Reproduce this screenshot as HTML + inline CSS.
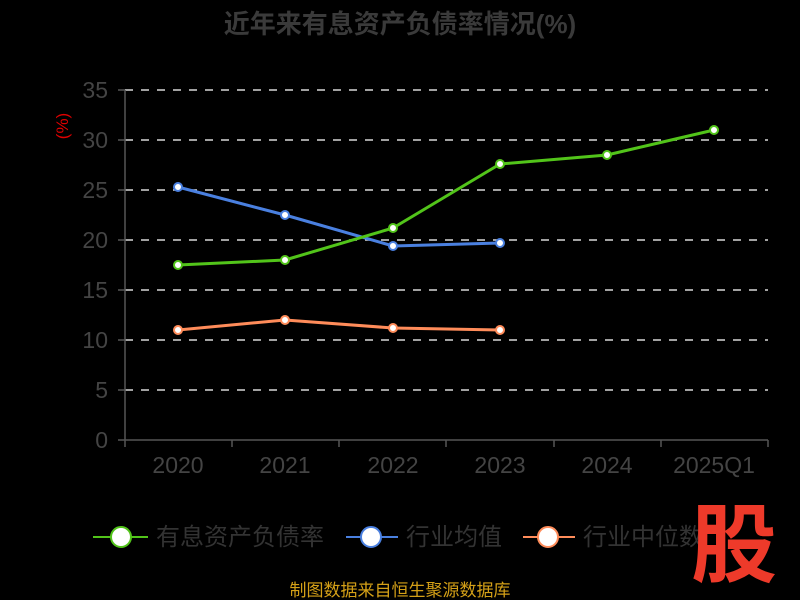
<!DOCTYPE html>
<html><head><meta charset="utf-8"><style>
html,body{margin:0;padding:0;background:#000;}
svg{display:block;font-family:"Liberation Sans","Noto Sans CJK SC",sans-serif;}
</style></head><body>
<svg width="800" height="600" viewBox="0 0 800 600">
<rect width="800" height="600" fill="#000"/>
<text x="400" y="33" text-anchor="middle" font-size="26" font-weight="bold" fill="#3a3a3a">近年来有息资产负债率情况(%)</text>
<text transform="translate(68,126) rotate(-90)" text-anchor="middle" font-size="17" fill="#e00000">(%)</text>
<g stroke="#d8d8d8" stroke-width="1.5" stroke-dasharray="8,8">
<line x1="125" y1="90" x2="768" y2="90"/><line x1="125" y1="140" x2="768" y2="140"/>
<line x1="125" y1="190" x2="768" y2="190"/><line x1="125" y1="240" x2="768" y2="240"/>
<line x1="125" y1="290" x2="768" y2="290"/><line x1="125" y1="340" x2="768" y2="340"/>
<line x1="125" y1="390" x2="768" y2="390"/>
</g>
<g stroke="#555" stroke-width="1.5">
<line x1="125" y1="90" x2="125" y2="440"/><line x1="125" y1="440" x2="768" y2="440"/>
<line x1="118" y1="90" x2="125" y2="90"/><line x1="118" y1="140" x2="125" y2="140"/><line x1="118" y1="190" x2="125" y2="190"/><line x1="118" y1="240" x2="125" y2="240"/><line x1="118" y1="290" x2="125" y2="290"/><line x1="118" y1="340" x2="125" y2="340"/><line x1="118" y1="390" x2="125" y2="390"/><line x1="118" y1="440" x2="125" y2="440"/>
<line x1="125" y1="440" x2="125" y2="447"/><line x1="232" y1="440" x2="232" y2="447"/><line x1="339" y1="440" x2="339" y2="447"/><line x1="446" y1="440" x2="446" y2="447"/><line x1="554" y1="440" x2="554" y2="447"/><line x1="661" y1="440" x2="661" y2="447"/><line x1="768" y1="440" x2="768" y2="447"/>
</g>
<g font-size="23" fill="#444" text-anchor="end">
<text x="108" y="98">35</text><text x="108" y="148">30</text><text x="108" y="198">25</text><text x="108" y="248">20</text><text x="108" y="298">15</text><text x="108" y="348">10</text><text x="108" y="398">5</text><text x="108" y="448">0</text>
</g>
<g font-size="23" fill="#444" text-anchor="middle">
<text x="178" y="473">2020</text><text x="285" y="473">2021</text><text x="393" y="473">2022</text><text x="500" y="473">2023</text><text x="607" y="473">2024</text><text x="714" y="473">2025Q1</text>
</g>
<g fill="none" stroke-width="3" stroke-linejoin="round">
<polyline stroke="#4a80e0" points="178,187 285,215 393,246 500,243"/>
<polyline stroke="#ff8c5a" points="178,330 285,320 393,328 500,330"/>
<polyline stroke="#52c41a" points="178,265 285,260 393,228 500,164 607,155 714,130"/>
</g>
<g fill="#fff" stroke-width="2">
<g stroke="#4a80e0"><circle cx="178" cy="187" r="4"/><circle cx="285" cy="215" r="4"/><circle cx="393" cy="246" r="4"/><circle cx="500" cy="243" r="4"/></g>
<g stroke="#ff8c5a"><circle cx="178" cy="330" r="4"/><circle cx="285" cy="320" r="4"/><circle cx="393" cy="328" r="4"/><circle cx="500" cy="330" r="4"/></g>
<g stroke="#52c41a"><circle cx="178" cy="265" r="4"/><circle cx="285" cy="260" r="4"/><circle cx="393" cy="228" r="4"/><circle cx="500" cy="164" r="4"/><circle cx="607" cy="155" r="4"/><circle cx="714" cy="130" r="4"/></g>
</g>
<g stroke-width="2">
<line x1="93" y1="537" x2="148" y2="537" stroke="#52c41a"/><circle cx="121" cy="537" r="10" fill="#fff" stroke="#52c41a"/>
<line x1="346" y1="537" x2="398" y2="537" stroke="#4a80e0"/><circle cx="371" cy="537" r="10" fill="#fff" stroke="#4a80e0"/>
<line x1="523" y1="537" x2="575" y2="537" stroke="#ff8c5a"/><circle cx="548" cy="537" r="10" fill="#fff" stroke="#ff8c5a"/>
</g>
<g font-size="24" fill="#333">
<text x="156" y="545">有息资产负债率</text><text x="406" y="545">行业均值</text><text x="583" y="545">行业中位数</text>
</g>
<text x="734" y="575" text-anchor="middle" font-size="86" font-weight="bold" fill="#ee3a2a">股</text>
<text x="400" y="596" text-anchor="middle" font-size="17" fill="#d4a017">制图数据来自恒生聚源数据库</text>
</svg>
</body></html>
